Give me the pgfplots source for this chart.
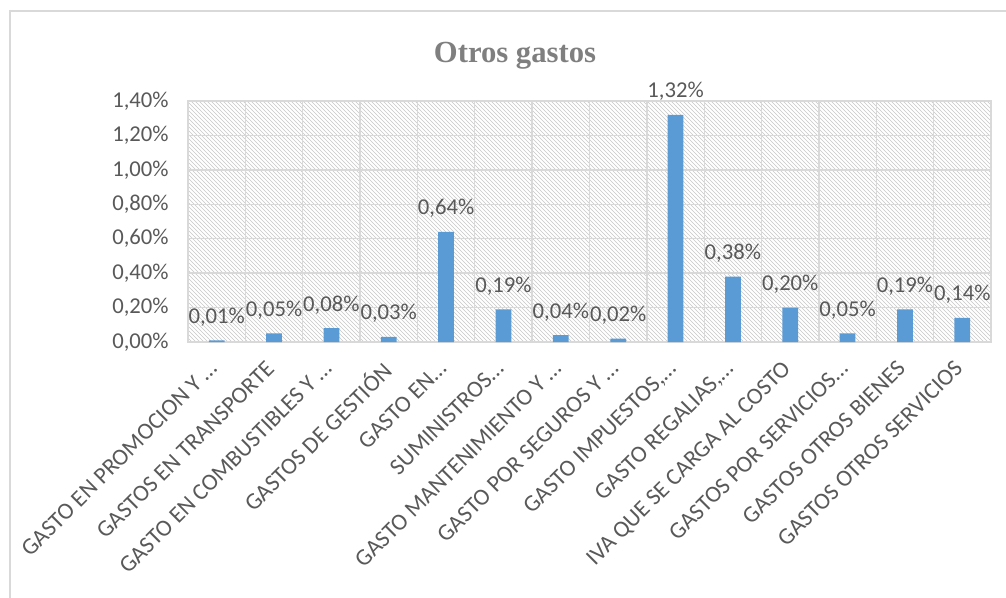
\documentclass[border=0pt]{standalone}
\usepackage{pgfplots}
\pgfplotsset{compat=1.18}
\usepackage{fontspec}
\setmainfont{Carlito}
\newfontfamily\titlefont{Liberation Serif}
\usetikzlibrary{patterns}

\definecolor{barc}{HTML}{5B9BD5}
\definecolor{gridc}{HTML}{D9D9D9}
\definecolor{txtc}{HTML}{595959}
\definecolor{titlec}{HTML}{7F7F7F}

\begin{document}
\begin{tikzpicture}
\useasboundingbox (0pt,0pt) rectangle (754.5pt,-448.5pt);
% chart frame (top and left edge only are visible)
\draw[gridc, line width=1pt] (7.5pt,-448.5pt) |- (754.5pt,-8.25pt);
\node[font=\titlefont\bfseries\fontsize{23}{26}\selectfont, text=titlec] at (386.25pt,-41.5pt) {Otros gastos};

\begin{axis}[
    at={(141pt,-256.5pt)}, anchor=south west,
    scale only axis, width=602.25pt, height=180.75pt,
    clip=false,
    ybar, bar width=11.8pt,
    xmin=-0.5, xmax=13.5,
    ymin=0, ymax=1.4,
    xtick=data,
    minor xtick={-0.5,0.5,...,13.5},
    xticklabels={{GASTO EN PROMOCION Y …},{GASTOS EN TRANSPORTE},{GASTO EN COMBUSTIBLES Y …},{GASTOS DE GESTIÓN},{GASTO EN…},{SUMINISTROS…},{GASTO MANTENIMIENTO Y …},{GASTO POR SEGUROS Y …},{GASTO IMPUESTOS,…},{GASTO REGALIAS,…},{IVA QUE SE CARGA AL COSTO},{GASTOS POR SERVICIOS…},{GASTOS OTROS BIENES},{GASTOS OTROS SERVICIOS}},
    ytick={0,0.2,...,1.4},
    yticklabels={{0,00\%},{0,20\%},{0,40\%},{0,60\%},{0,80\%},{1,00\%},{1,20\%},{1,40\%}},
    major tick length=0pt, minor tick length=0pt,
    ymajorgrids=true, xminorgrids=true,
    grid style={gridc, line width=1pt},
    minor grid style={gridc, line width=1pt},
    axis line style={gridc, line width=1pt},
    axis background/.style={pattern=north west lines, pattern color=black!22},
    tick label style={font=\fontsize{17}{20}\selectfont, text=txtc},
    yticklabel style={anchor=east, xshift=-11pt},
    xticklabel style={font=\fontsize{17.6}{21}\selectfont, yshift=-8pt, xshift=-7pt, rotate=45, anchor=north east},
    /pgf/number format/assume math mode=true,
    nodes near coords={\pgfmathprintnumber[fixed, fixed zerofill, precision=2, use comma]{\pgfplotspointmeta}\%},
    nodes near coords style={font=\fontsize{17}{20}\selectfont, text=txtc, yshift=7pt},
]
\addplot[fill=barc, draw=none] coordinates {
    (0,0.01) (1,0.05) (2,0.08) (3,0.03) (4,0.64) (5,0.19) (6,0.04)
    (7,0.02) (8,1.32) (9,0.38) (10,0.20) (11,0.05) (12,0.19) (13,0.14)
};
\end{axis}
\end{tikzpicture}
\end{document}
